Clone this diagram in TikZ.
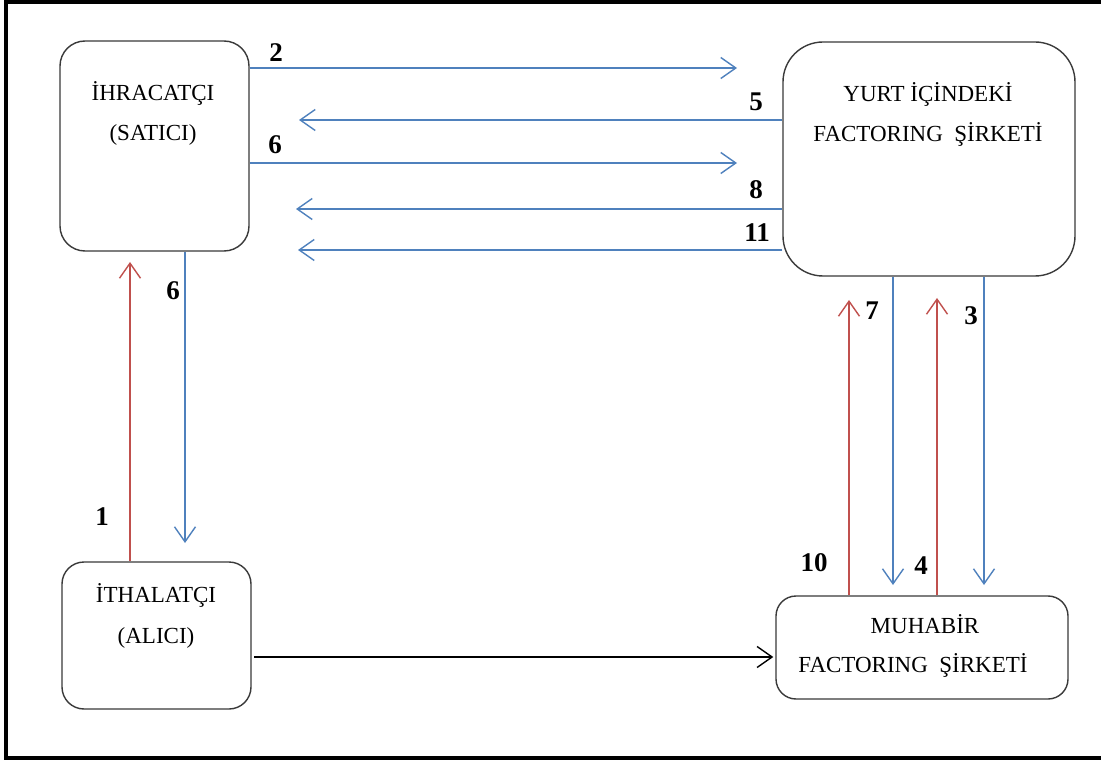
\documentclass[tikz,border=0pt]{standalone}
\usepackage{fontspec}
\setmainfont{Liberation Serif}
\usetikzlibrary{arrows.meta}

\definecolor{flowblue}{HTML}{4F81BD}
\definecolor{flowred}{HTML}{C0504D}
\definecolor{boxline}{HTML}{3A3A3A}

\tikzset{
  party/.style={draw=boxline, line width=1.4pt, fill=white, inner sep=0pt},
  boxtext/.style={anchor=base, inner sep=0pt, font=\fontsize{23}{27}\selectfont},
  steplabel/.style={inner sep=0pt, font=\fontsize{27}{32}\selectfont\bfseries},
  tip/.style={-{Straight Barb[length=15pt,width=21pt,line width=1.4pt]}},
  bluearr/.style={tip, draw=flowblue, line width=1.5pt},
  redarr/.style={tip, draw=flowred, line width=1.5pt},
  blackarr/.style={tip, draw=black, line width=1.4pt},
}

\begin{document}
\begin{tikzpicture}[x=1pt, y=-1pt]
  \useasboundingbox (0,0) rectangle (1101,762);
  \fill[white] (0,0) rectangle (1101,762);
  % outer frame
  \draw[line width=3.5pt] (6,1.8) rectangle (1115,758.2);

  % parties
  \node[party, minimum width=189pt, minimum height=210pt, rounded corners=25pt] (exp) at (154.5,146) {};
  \node[party, minimum width=292pt, minimum height=234pt, rounded corners=40pt] (dom) at (929,159) {};
  \node[party, minimum width=189pt, minimum height=147pt, rounded corners=22pt] (imp) at (156.5,635.5) {};
  \node[party, minimum width=292pt, minimum height=103pt, rounded corners=20pt] (cor) at (922,647.5) {};

  % party names
  \node[boxtext] (expA) at (153,101) {İHRACATÇI};
  \node[boxtext] (expB) at (153,141) {(SATICI)};
  \node[boxtext] (domA) at (928,102) {YURT İÇİNDEKİ};
  \node[boxtext] (domB) at (928,142) {FACTORING\ \ ŞİRKETİ};
  \node[boxtext] (impA) at (156,602) {İTHALATÇI};
  \node[boxtext] (impB) at (156,643) {(ALICI)};
  \node[boxtext] (corA) at (925,633) {MUHABİR};
  \node[boxtext] (corB) at (913,672) {FACTORING\ \ ŞİRKETİ};

  % arrow tips (free ends)
  \coordinate (t2)  at (737,68);
  \coordinate (t5)  at (299,120);
  \coordinate (t6)  at (737,163);
  \coordinate (t8)  at (296,209);
  \coordinate (t11) at (298,250);
  \coordinate (t1)  at (130,262);
  \coordinate (t6b) at (185,543);
  \coordinate (t10) at (849,300);
  \coordinate (t7)  at (893,585);
  \coordinate (t4)  at (937,298);
  \coordinate (t3)  at (984,585);
  \coordinate (s0)  at (254,657);

  % exporter <-> domestic factor
  \draw[bluearr] (t2 -| exp.east) -- (t2);
  \draw[bluearr] (t5 -| dom.west) -- (t5);
  \draw[bluearr] (t6 -| exp.east) -- (t6);
  \draw[bluearr] (t8 -| dom.west) -- (t8);
  \draw[bluearr] (t11 -| dom.west) -- (t11);

  % exporter <-> importer
  \draw[redarr] (t1 |- imp.north) -- (t1);
  \draw[bluearr] (t6b |- exp.south) -- (t6b);

  % domestic factor <-> correspondent factor
  \draw[redarr] (t10 |- cor.north) -- (t10);
  \draw[bluearr] (t7 |- dom.south) -- (t7);
  \draw[redarr] (t4 |- cor.north) -- (t4);
  \draw[bluearr] (t3 |- dom.south) -- (t3);

  % importer -> correspondent factor
  \draw[blackarr, shorten >=2pt] (s0) -- (s0 -| cor.west);

  % step numbers
  \node[steplabel] (n2)  at (276,53)  {2};
  \node[steplabel] (n5)  at (756,102) {5};
  \node[steplabel] (n6)  at (275,145) {6};
  \node[steplabel] (n8)  at (756,190) {8};
  \node[steplabel] (n11) at (757,233) {11};
  \node[steplabel] (n6b) at (173,291) {6};
  \node[steplabel] (n1)  at (102,517) {1};
  \node[steplabel] (n7)  at (872,311) {7};
  \node[steplabel] (n3)  at (971,316) {3};
  \node[steplabel] (n10) at (814,563) {10};
  \node[steplabel] (n4)  at (921,566) {4};
\end{tikzpicture}
\end{document}
